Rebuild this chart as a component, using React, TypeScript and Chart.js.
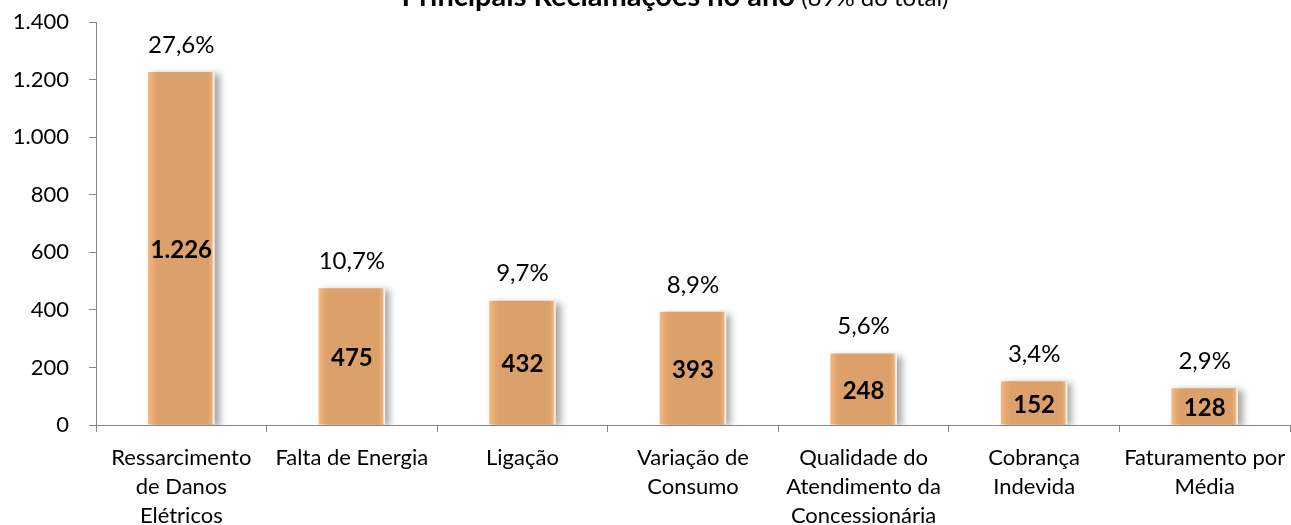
import React, { useEffect, useRef } from "react";
import { Chart, registerables } from "chart.js";

Chart.register(...registerables);

const categories: (string | string[])[] = [
  ["Ressarcimento", "de Danos", "Elétricos"],
  "Falta de Energia",
  "Ligação",
  ["Variação de", "Consumo"],
  ["Qualidade do", "Atendimento da", "Concessionária"],
  ["Cobrança", "Indevida"],
  ["Faturamento por", "Média"],
];
const values = [1226, 475, 432, 393, 248, 152, 128];
const shares = [27.6, 10.7, 9.7, 8.9, 5.6, 3.4, 2.9];
const titleBold = "Principais Reclamações no ano";
const titleNote = "(69% do total)";

const FONT = 'Lato, "Open Sans", sans-serif';
const BAR_PCT = 0.39;

const fmtThousands = (v: number) =>
  String(Math.round(v)).replace(/\B(?=(\d{3})+(?!\d))/g, ".");
const fmtPct = (v: number) => v.toFixed(1).replace(".", ",") + "%";

const decorPlugin = {
  id: "decor",
  beforeDatasetsDraw(chart: any) {
    const ctx = chart.ctx;
    ctx.save();
    ctx.shadowColor = "rgba(0,0,0,0.35)";
    ctx.shadowBlur = 7;
    ctx.shadowOffsetX = 5;
    ctx.shadowOffsetY = 2;
  },
  afterDatasetsDraw(chart: any) {
    const ctx = chart.ctx;
    ctx.restore();
    const meta = chart.getDatasetMeta(0);
    ctx.save();
    ctx.fillStyle = "#000";
    ctx.textAlign = "center";
    ctx.textBaseline = "middle";
    meta.data.forEach((bar: any, i: number) => {
      const { x, y, base } = bar.getProps(["x", "y", "base"], true);
      ctx.font = `bold 24px ${FONT}`;
      ctx.fillText(fmtThousands(values[i]), x, (y + base) / 2 + 2);
      ctx.font = `24px ${FONT}`;
      ctx.fillText(fmtPct(shares[i]), x, y - 27);
    });
    ctx.restore();
  },
  afterDraw(chart: any) {
    const ctx = chart.ctx;
    ctx.save();
    ctx.fillStyle = "#000";
    ctx.textBaseline = "alphabetic";
    ctx.textAlign = "left";
    const boldFont = `bold 29px ${FONT}`;
    const normFont = `24px ${FONT}`;
    ctx.font = boldFont;
    const wb = ctx.measureText(titleBold).width;
    ctx.font = normFont;
    const wn = ctx.measureText(" " + titleNote).width;
    const cx = 675;
    const x0 = cx - (wb + wn) / 2;
    ctx.font = boldFont;
    ctx.fillText(titleBold, x0, 6);
    ctx.font = normFont;
    ctx.fillText(" " + titleNote, x0 + wb, 6);
    ctx.restore();
  },
};

export default function App() {
  const ref = useRef<HTMLCanvasElement | null>(null);

  useEffect(() => {
    document.body.style.margin = "0";
    if (!ref.current) return;
    const chart = new Chart(ref.current, {
      type: "bar",
      data: {
        labels: categories,
        datasets: [
          {
            data: values,
            borderWidth: 0,
            categoryPercentage: 1,
            barPercentage: BAR_PCT,
            backgroundColor: (c: any) => {
              const ch = c.chart;
              const xs = ch.scales && ch.scales.x;
              if (!xs || c.type !== "data" || !xs.width) return "#DDA06B";
              const center = xs.getPixelForValue(c.dataIndex);
              const w = (xs.width / categories.length) * BAR_PCT;
              const g = ch.ctx.createLinearGradient(center - w / 2, 0, center + w / 2, 0);
              g.addColorStop(0, "#F6B982");
              g.addColorStop(0.1, "#E3A46E");
              g.addColorStop(0.16, "#DCA06B");
              g.addColorStop(0.9, "#DCA06B");
              g.addColorStop(0.96, "#EDB07A");
              g.addColorStop(0.98, "#FBE3C8");
              g.addColorStop(1, "#FFFFFF");
              return g;
            },
          },
        ],
      },
      options: {
        animation: false,
        responsive: true,
        maintainAspectRatio: false,
        layout: { padding: { top: 22, right: 1, left: 0, bottom: 0 } },
        plugins: {
          legend: { display: false },
          title: { display: false },
          tooltip: { enabled: false },
        },
        scales: {
          x: {
            grid: {
              display: true,
              drawOnChartArea: false,
              drawTicks: true,
              tickLength: 7,
              color: "#868686",
              offset: true,
            },
            border: { display: true, color: "#868686", width: 1 },
            ticks: {
              color: "#000",
              font: { family: FONT, size: 22, lineHeight: 1.3 },
              padding: 12,
              maxRotation: 0,
              autoSkip: false,
            },
            afterFit: (s: any) => {
              s.height = 100;
              s.paddingLeft = 0;
              s.paddingRight = 0;
            },
          },
          y: {
            min: 0,
            max: 1400,
            ticks: {
              stepSize: 200,
              color: "#000",
              font: { family: FONT, size: 22 },
              padding: 20,
              callback: (v: any) => fmtThousands(Number(v)),
            },
            grid: {
              display: true,
              drawOnChartArea: false,
              drawTicks: true,
              tickLength: 7,
              color: "#868686",
            },
            border: { display: true, color: "#868686", width: 1 },
            afterFit: (s: any) => {
              s.width = 96;
              s.paddingTop = 0;
              s.paddingBottom = 0;
            },
          },
        },
      },
      plugins: [decorPlugin],
    });
    return () => chart.destroy();
  }, []);

  return (
    <div style={{ width: 1291, height: 525, position: "relative" }}>
      <canvas ref={ref} />
    </div>
  );
}
